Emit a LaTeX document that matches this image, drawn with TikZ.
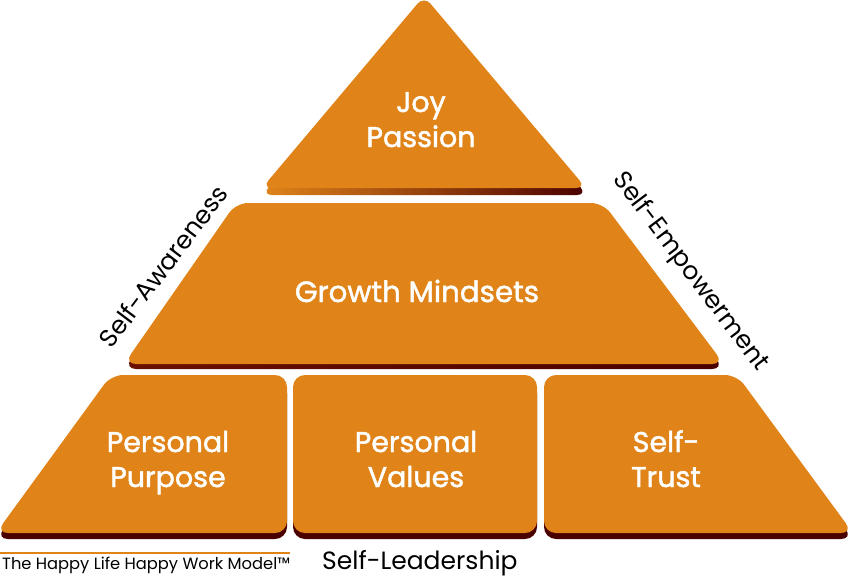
\documentclass[tikz,border=0pt]{standalone}
\usepackage{fontspec}
\setmainfont{Poppins}
\newfontfamily\boxfont[FakeBold=1.6]{Poppins}
\definecolor{pyrorange}{HTML}{E0841A}
\definecolor{deepmaroon}{HTML}{4A0000}
\definecolor{midmaroon}{HTML}{6A1000}
\begin{document}
\begin{tikzpicture}[x=1pt,y=-1pt,
  blockshape/.style={fill=pyrorange, rounded corners=12pt},
  shadowshape/.style={fill=deepmaroon, rounded corners=12pt},
  boxtext/.style={text=white, font=\boxfont\fontsize{28.5}{31}\selectfont, anchor=base, inner sep=0pt},
  outertext/.style={text=black, font=\fontsize{25}{28}\selectfont, inner sep=0pt}]
\useasboundingbox (0,0) rectangle (848,578);
% top triangle
\shade[left color=pyrorange, right color=deepmaroon, rounded corners=10pt]
  (425,2) -- (262,195) -- (587,195) -- cycle;
\fill[pyrorange, rounded corners=10pt] (424,-4) -- (262,188) -- (586,188) -- cycle;
% middle trapezoid
\shade[left color=midmaroon, right color=deepmaroon, rounded corners=12pt]
  (236,208) -- (604,208) -- (724,369) -- (124,369) -- cycle;
\fill[blockshape] (236,203) -- (603,203) -- (724,364) -- (124,364) -- cycle;
% bottom boxes shadows
\fill[shadowshape] (111,381) -- (287,381) -- (287,539) -- (-4,539) -- cycle;
\fill[shadowshape] (293,381) -- (537,381) -- (537,539) -- (293,539) -- cycle;
\fill[shadowshape] (544,381) -- (737,381) -- (853,539) -- (544,539) -- cycle;
% bottom boxes
\fill[blockshape] (111,375) -- (287,375) -- (287,533) -- (-4,533) -- cycle;
\fill[blockshape] (293,375) -- (537,375) -- (537,533) -- (293,533) -- cycle;
\fill[blockshape] (544,375) -- (737,375) -- (853,533) -- (544,533) -- cycle;
% texts
\node[boxtext] (joy) at (421,112) {Joy};
\node[boxtext] (passion) at (421,147) {Passion};
\node[boxtext, font=\boxfont\fontsize{29.3}{32}\selectfont] (growth) at (417,302) {Growth Mindsets};
\node[boxtext] (pers1) at (168,452) {Personal};
\node[boxtext] (purp) at (168,487) {Purpose};
\node[boxtext] (pers2) at (416,452) {Personal};
\node[boxtext] (vals) at (416,487) {Values};
\node[boxtext] (self) at (666,452) {Self-};
\node[boxtext] (trust) at (666,487) {Trust};
\node[outertext, rotate=53] (aware) at (163,266) {Self-Awareness};
\node[outertext, rotate=-53] (empower) at (690,272) {Self-Empowerment};
\node[outertext, anchor=base west] (lead) at (322,569) {Self-Leadership};
\draw[pyrorange, line width=2pt] (0,553) -- (290,553);
\node[text=black, font=\fontsize{16.3}{19}\selectfont, anchor=base west, inner sep=0pt] (model) at (2,569) {The Happy Life Happy Work Model™};
\end{tikzpicture}
\end{document}
